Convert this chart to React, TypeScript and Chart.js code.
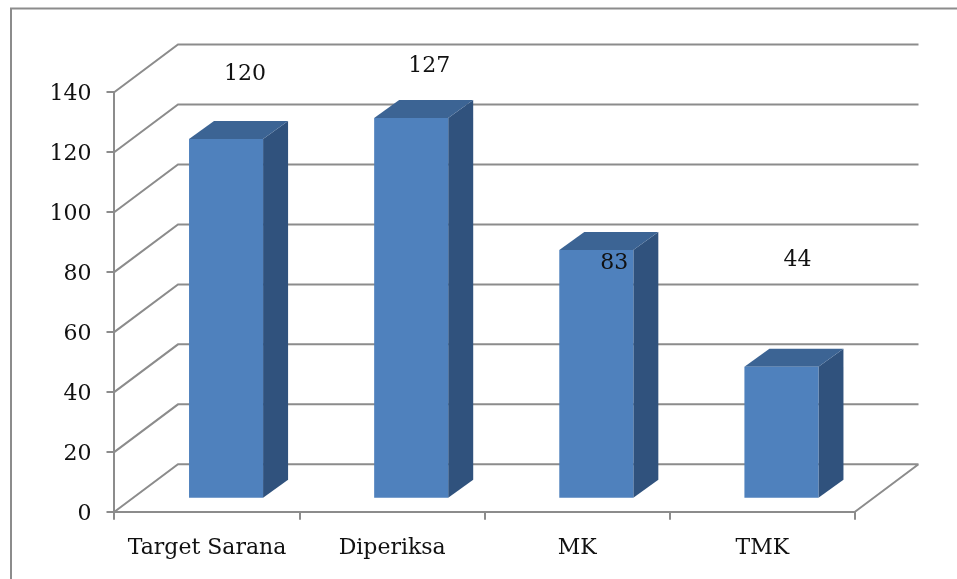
import React, { useEffect, useRef } from "react";
import { Chart, registerables } from "chart.js";

Chart.register(...registerables);

const categories = ["Target Sarana", "Diperiksa", "MK", "TMK"];
const values = [120, 127, 83, 44];
const valueLabels = ["120", "127", "83", "44"];

const FONT = '"DejaVu Serif", serif';
const FONT_SIZE = 22;
const GRAY = "#8c8c8c";
const FRONT = "#4f81bd";
const SIDE = "#30527d";
const TOP = "#3c6494";

// perspective of the chart box and of the bars
const WALL_DX = 63.5;
const WALL_DY = -47.5;
const BAR_SHIFT_X = 19;
const BAR_SHIFT_Y = -13;
const BAR_DX = 25;
const BAR_DY = -18;
// label placement relative to each bar's top centre
const LABEL_OFFSETS = [
  [19, -65],
  [18, -52],
  [18, 13],
  [16, -107],
];

const threeD = {
  id: "threeD",
  beforeDatasetsDraw(chart: any) {
    const { ctx, chartArea, scales } = chart;
    const { left, right, bottom } = chartArea;
    ctx.save();
    ctx.strokeStyle = GRAY;
    ctx.lineWidth = 2;
    ctx.beginPath();
    // chart frame
    ctx.moveTo(11, 579);
    ctx.lineTo(11, 8.5);
    ctx.lineTo(957, 8.5);
    // side wall + back wall grid lines
    scales.y.ticks.forEach((t: any) => {
      const y = scales.y.getPixelForValue(t.value);
      ctx.moveTo(left, y);
      ctx.lineTo(left + WALL_DX, y + WALL_DY);
      ctx.lineTo(right + WALL_DX, y + WALL_DY);
    });
    // floor
    ctx.moveTo(right, bottom);
    ctx.lineTo(right + WALL_DX, bottom + WALL_DY);
    ctx.stroke();
    ctx.restore();
  },
  beforeDatasetDraw(chart: any, args: any) {
    const { ctx } = chart;
    const meta = chart.getDatasetMeta(args.index);
    ctx.save();
    ctx.translate(BAR_SHIFT_X, BAR_SHIFT_Y);
    meta.data.forEach((bar: any) => {
      const { x, y, base, width } = bar.getProps(["x", "y", "base", "width"], true);
      const l = x - width / 2;
      const r = x + width / 2;
      ctx.fillStyle = SIDE;
      ctx.beginPath();
      ctx.moveTo(r, y);
      ctx.lineTo(r + BAR_DX, y + BAR_DY);
      ctx.lineTo(r + BAR_DX, base + BAR_DY);
      ctx.lineTo(r, base);
      ctx.closePath();
      ctx.fill();
      ctx.fillStyle = TOP;
      ctx.beginPath();
      ctx.moveTo(l, y);
      ctx.lineTo(l + BAR_DX, y + BAR_DY);
      ctx.lineTo(r + BAR_DX, y + BAR_DY);
      ctx.lineTo(r, y);
      ctx.closePath();
      ctx.fill();
    });
  },
  afterDatasetDraw(chart: any) {
    chart.ctx.restore();
  },
  afterDatasetsDraw(chart: any) {
    const { ctx } = chart;
    const meta = chart.getDatasetMeta(0);
    ctx.save();
    ctx.font = `${FONT_SIZE}px ${FONT}`;
    ctx.fillStyle = "#111";
    ctx.textAlign = "center";
    ctx.textBaseline = "middle";
    meta.data.forEach((bar: any, i: number) => {
      const [dx, dy] = LABEL_OFFSETS[i];
      ctx.fillText(valueLabels[i], bar.x + BAR_SHIFT_X + dx, bar.y + BAR_SHIFT_Y + dy);
    });
    ctx.restore();
  },
};

export default function App() {
  const ref = useRef<HTMLCanvasElement>(null);
  useEffect(() => {
    const chart = new Chart(ref.current!, {
      type: "bar",
      data: {
        labels: categories,
        datasets: [
          {
            data: values,
            backgroundColor: FRONT,
            barPercentage: 0.4,
            categoryPercentage: 1,
            clip: false as any,
          },
        ],
      },
      options: {
        animation: false,
        responsive: false,
        layout: { padding: { left: 34.5, top: 92, right: 102, bottom: 2.8 } },
        plugins: { legend: { display: false }, tooltip: { enabled: false } },
        scales: {
          x: {
            grid: { drawOnChartArea: false, color: GRAY, tickLength: 8, lineWidth: 2 },
            border: { color: GRAY, width: 2 },
            ticks: { font: { family: FONT, size: FONT_SIZE }, color: "#111", maxRotation: 0, padding: 15 },
          },
          y: {
            min: 0,
            max: 140,
            grid: { drawOnChartArea: false, color: GRAY, tickLength: 8, lineWidth: 2 },
            border: { color: GRAY, width: 2 },
            ticks: { stepSize: 20, font: { family: FONT, size: FONT_SIZE }, color: "#111", padding: 15, labelOffset: 2 },
          },
        },
      },
      plugins: [threeD],
    });
    return () => chart.destroy();
  }, []);
  return (
    <div style={{ position: "absolute", left: 0, top: 0, width: 957, height: 579, background: "#fff" }}>
      <canvas ref={ref} width={957} height={579} style={{ display: "block" }} />
    </div>
  );
}
